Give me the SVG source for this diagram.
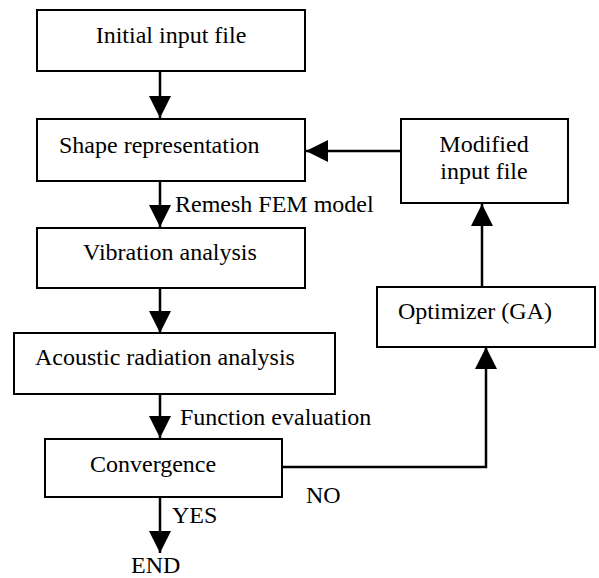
<svg xmlns="http://www.w3.org/2000/svg" width="599" height="578" viewBox="0 0 599 578">
<style>
.box{fill:#fff;stroke:#000;stroke-width:2}
.t{font-family:'Times New Roman','Liberation Serif',serif;font-size:24px;fill:#000}
.c{fill:none;stroke:#000;stroke-width:2.5}
</style>
<defs>
<marker id="ah" markerUnits="userSpaceOnUse" markerWidth="22" markerHeight="22" refX="22" refY="11" orient="auto" viewBox="0 0 22 22">
<path d="M0,0 L22,11 L0,22 z" fill="#000"/>
</marker>
</defs>
<rect width="599" height="578" fill="#fff"/>
<g id="connectors">
<line class="c" x1="160" y1="71" x2="160" y2="118" marker-end="url(#ah)"/>
<line class="c" x1="160" y1="181" x2="160" y2="227" marker-end="url(#ah)"/>
<line class="c" x1="160" y1="288" x2="160" y2="333" marker-end="url(#ah)"/>
<line class="c" x1="160" y1="394" x2="160" y2="438" marker-end="url(#ah)"/>
<line class="c" x1="160" y1="497" x2="160" y2="553" marker-end="url(#ah)"/>
<path class="c" d="M282,467 H486 V347" marker-end="url(#ah)"/>
<line class="c" x1="482" y1="287" x2="482" y2="204" marker-end="url(#ah)"/>
<line class="c" x1="401" y1="151" x2="306" y2="151" marker-end="url(#ah)"/>
<text class="t" x="175" y="212">Remesh FEM model</text>
<text class="t" x="180" y="425">Function evaluation</text>
<text class="t" x="306" y="503">NO</text>
<text class="t" x="172" y="523">YES</text>
</g>
<g id="initial">
<rect class="box" x="37" y="10" width="268" height="61"/>
<text class="t" x="171" y="43" text-anchor="middle">Initial input file</text>
</g>
<g id="shape">
<rect class="box" x="37" y="119" width="268" height="62"/>
<text class="t" x="59" y="153">Shape representation</text>
</g>
<g id="vibration">
<rect class="box" x="37" y="228" width="268" height="60"/>
<text class="t" x="83" y="260">Vibration analysis</text>
</g>
<g id="acoustic">
<rect class="box" x="14" y="333" width="321" height="61"/>
<text class="t" x="35" y="365">Acoustic radiation analysis</text>
</g>
<g id="convergence">
<rect class="box" x="45" y="439" width="237" height="58"/>
<text class="t" x="90" y="472">Convergence</text>
</g>
<g id="end">
<text class="t" x="131" y="573">END</text>
</g>
<g id="modified">
<rect class="box" x="401" y="119" width="167" height="84"/>
<text class="t" x="484" y="152" text-anchor="middle">Modified</text>
<text class="t" x="484" y="179" text-anchor="middle">input file</text>
</g>
<g id="optimizer">
<rect class="box" x="377" y="287" width="218" height="60"/>
<text class="t" x="398" y="319">Optimizer (GA)</text>
</g>
</svg>
